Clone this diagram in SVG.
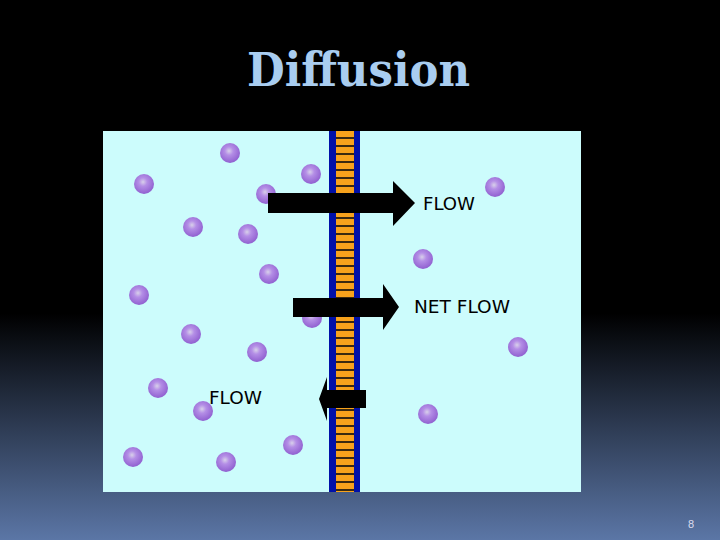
<svg xmlns="http://www.w3.org/2000/svg" width="720" height="540" viewBox="0 0 720 540">
<defs>
<linearGradient id="bg" x1="0" y1="0" x2="0" y2="1">
<stop offset="0" stop-color="#000"/><stop offset="0.58" stop-color="#000"/><stop offset="1" stop-color="#5b76a6"/>
</linearGradient>
<radialGradient id="mol" cx="0.45" cy="0.4" r="0.6">
<stop offset="0" stop-color="#d8d0ea"/><stop offset="0.35" stop-color="#b48ee6"/><stop offset="1" stop-color="#9060d0"/>
</radialGradient>
<pattern id="stripes" x="0" y="131" width="18" height="8" patternUnits="userSpaceOnUse">
<rect width="18" height="8" fill="#f7a21c"/><rect y="6" width="18" height="2" fill="#3a2a10"/>
</pattern>
</defs>
<style>
.m{fill:url(#mol)} .t{font-family:"DejaVu Sans",sans-serif;font-size:18.5px;fill:#000}
</style>
<rect width="720" height="540" fill="url(#bg)"/>
<text x="247" y="86" textLength="223" lengthAdjust="spacingAndGlyphs" font-family="DejaVu Serif,serif" font-weight="bold" font-size="46" fill="#a9cdf0">Diffusion</text>
<rect x="103" y="131" width="478" height="361" fill="#ccfcfc"/>
<g id="membrane">
<rect x="329" y="131" width="31" height="361" fill="#0010a8"/>
<rect x="336" y="131" width="18" height="361" fill="url(#stripes)"/>
</g>
<g id="molecules">
<circle class="m" cx="230" cy="153" r="10"/><circle class="m" cx="144" cy="184" r="10"/>
<circle class="m" cx="266" cy="194" r="10"/><circle class="m" cx="311" cy="174" r="10"/>
<circle class="m" cx="495" cy="187" r="10"/><circle class="m" cx="193" cy="227" r="10"/>
<circle class="m" cx="248" cy="234" r="10"/><circle class="m" cx="423" cy="259" r="10"/>
<circle class="m" cx="269" cy="274" r="10"/><circle class="m" cx="139" cy="295" r="10"/>
<circle class="m" cx="312" cy="318" r="10"/><circle class="m" cx="191" cy="334" r="10"/>
<circle class="m" cx="257" cy="352" r="10"/><circle class="m" cx="518" cy="347" r="10"/>
<circle class="m" cx="158" cy="388" r="10"/><circle class="m" cx="203" cy="411" r="10"/>
<circle class="m" cx="428" cy="414" r="10"/><circle class="m" cx="293" cy="445" r="10"/>
<circle class="m" cx="133" cy="457" r="10"/><circle class="m" cx="226" cy="462" r="10"/>
</g>
<g id="connectors" fill="#000">
<polygon points="268,193 393,193 393,181 415,203 393,226 393,213 268,213"/>
<polygon points="293,298 383,298 383,284 399,307 383,330 383,317 293,317"/>
<polygon points="366,390 327,390 327,377 319,399 327,421 327,408 366,408"/>
</g>
<g id="labels">
<text class="t" x="423" y="210" textLength="52" lengthAdjust="spacingAndGlyphs">FLOW</text>
<text class="t" x="414" y="313" textLength="96" lengthAdjust="spacingAndGlyphs">NET FLOW</text>
<text class="t" x="209" y="404" textLength="53" lengthAdjust="spacingAndGlyphs">FLOW</text>
</g>
<text x="688" y="528" font-family="Liberation Sans,sans-serif" font-size="11" fill="#dde">8</text>
</svg>
